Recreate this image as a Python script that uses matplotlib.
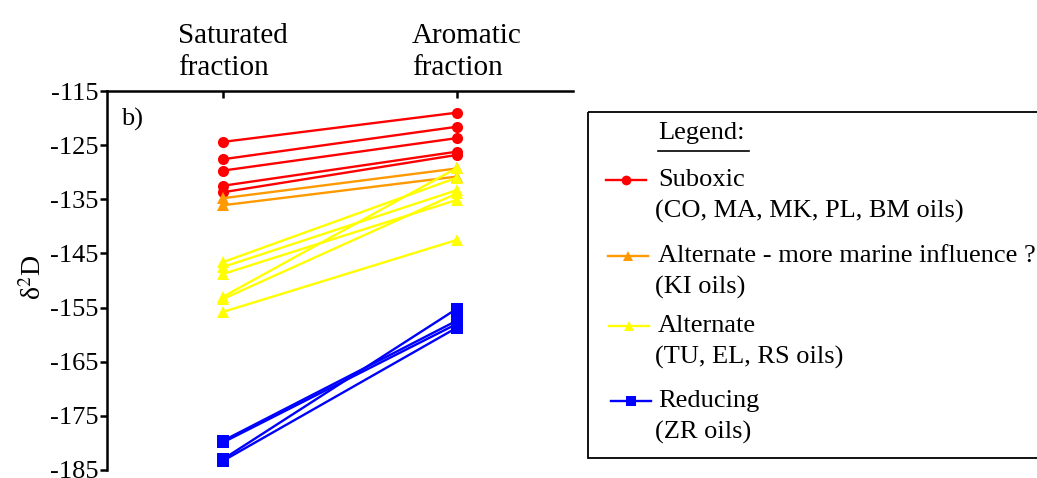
import matplotlib
matplotlib.use("Agg")
import matplotlib.pyplot as plt
from matplotlib.patches import Rectangle

plt.rcParams['font.family'] = ['Liberation Serif', 'DejaVu Serif']
plt.rcParams['mathtext.fontset'] = 'stix'

# delta-D of saturated vs aromatic fractions, one line per oil
sat_red = [-124.4, -127.6, -129.7, -132.5, -133.7]
aro_red = [-119.0, -121.6, -123.7, -126.2, -126.8]
sat_orange = [-134.8, -136.1]
aro_orange = [-129.3, -130.8]
sat_yellow = [-146.6, -147.5, -148.8, -153.0, -153.4, -155.8]
aro_yellow = [-131.0, -133.3, -135.1, -129.2, -133.9, -142.5]
sat_blue = [-179.6, -179.9, -183.0, -183.3]
aro_blue = [-157.4, -158.0, -155.2, -158.7]

fractions = ['Saturated\nfraction', 'Aromatic\nfraction']
yticks = [-115, -125, -135, -145, -155, -165, -175, -185]

groups = [
    (sat_red, aro_red, '#FF0000', 'o', 8, 'Suboxic', '(CO, MA, MK, PL, BM oils)'),
    (sat_orange, aro_orange, '#FF9900', '^', 9, 'Alternate - more marine influence ?', '(KI oils)'),
    (sat_yellow, aro_yellow, '#FFFF00', '^', 9, 'Alternate', '(TU, EL, RS oils)'),
    (sat_blue, aro_blue, '#0000FF', 's', 8.5, 'Reducing', '(ZR oils)'),
]

W, H = 1037, 478
fig = plt.figure(figsize=(W / 100, H / 100), dpi=100)
ax = fig.add_axes([107 / W, 1 - 470 / H, 466 / W, 379 / H])

for sat, aro, col, mk, ms, _, _ in groups:
    for s, a in zip(sat, aro):
        ax.plot([1, 2], [s, a], color=col, lw=1.7, marker=mk, ms=ms,
                markeredgewidth=0, clip_on=False)

ax.set_xlim(0.504, 2.496)
ax.set_ylim(-185, -115)
ax.set_yticks(yticks)
ax.set_yticklabels([str(v) for v in yticks])
ax.tick_params(axis='y', direction='out', length=5, width=1.8, pad=1, labelsize=19)
ax.xaxis.tick_top()
ax.set_xticks([1, 2])
ax.set_xticklabels([])
ax.tick_params(axis='x', direction='in', length=5, width=1.8)
for side in ['right', 'bottom']:
    ax.spines[side].set_visible(False)
for side in ['left', 'top']:
    ax.spines[side].set_linewidth(1.8)

for i, lab in enumerate(fractions):
    ax.annotate(lab, xy=(i + 1, 1), xycoords=('data', 'axes fraction'),
                xytext=(-32.5, 7), textcoords='offset points',
                ha='left', va='bottom', fontsize=21, linespacing=1.3)

ax.text(0.03, 0.955, 'b)', transform=ax.transAxes, fontsize=19, va='top')
fig.text(34 / W, 1 - 277 / H, r'δ$^{2}$D', rotation=90, ha='center', va='center', fontsize=20)

# legend box
lx0, ly0, lx1, ly1 = 588, 112, 1045, 458
lax = fig.add_axes([lx0 / W, 1 - ly1 / H, (lx1 - lx0) / W, (ly1 - ly0) / H])
lax.set_xlim(0, lx1 - lx0)
lax.set_ylim(ly1 - ly0, 0)
lax.axis('off')
lax.add_patch(Rectangle((0, 0), lx1 - lx0, ly1 - ly0, fill=False, lw=1.3,
                        edgecolor='black', clip_on=False))

lax.text(70, 21, 'Legend:', fontsize=19, va='center', ha='left')
lax.plot([70, 161], [39, 39], color='black', lw=1.2)

rows = [68, 144, 214, 289]
for k, ((sat, aro, col, mk, ms, name, sub), yy) in enumerate(zip(groups, rows)):
    x0 = 18 + k * 1.5
    lax.plot([x0, x0 + 20, x0 + 40], [yy, yy, yy], color=col, lw=1.7,
             marker=mk, ms=7, markevery=[1], markeredgewidth=0)
    lax.text(70, yy, name, fontsize=19, va='center', ha='left')
    lax.text(67, yy + 31, sub, fontsize=19, va='center', ha='left')

fig.savefig('out.png', dpi=100, facecolor='white')
